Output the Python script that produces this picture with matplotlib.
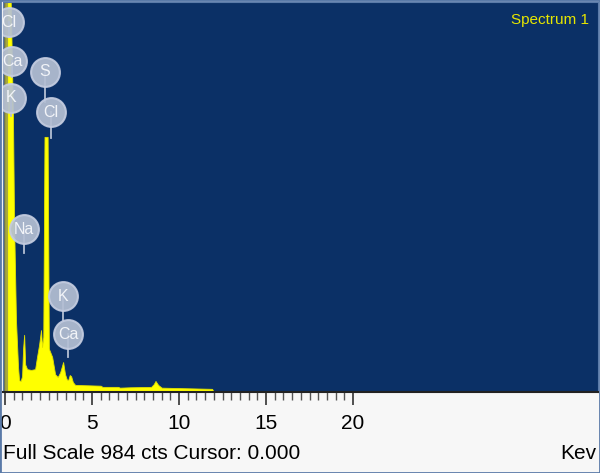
import numpy as np
import matplotlib
matplotlib.use("Agg")
import matplotlib.pyplot as plt
from matplotlib.patches import Rectangle

# spectrum (keV, counts)
energy_kev = [0.00, 0.02, 0.33, 0.46, 0.52, 0.63, 0.75, 0.81, 0.90, 0.98, 1.04, 1.10, 1.16,
              1.27, 1.50, 1.73, 1.84, 1.96, 2.07, 2.13, 2.20, 2.27, 2.45, 2.52, 2.71,
              2.88, 3.03, 3.17, 3.34, 3.45, 3.55, 3.63, 3.72, 3.80, 3.90, 4.03, 5.50,
              5.60, 6.50, 6.60, 7.20, 8.40, 8.55, 8.65, 8.80, 9.00, 11.90, 12.00]
counts = [0, 1000, 990, 690, 436, 183, 63, 30, 28, 40, 110, 145, 70,
          58, 56, 58, 89, 120, 157, 114, 140, 647, 647, 110, 89,
          45, 38, 50, 76, 45, 32, 30, 43, 40, 25, 18, 16,
          13, 13, 11, 12, 13, 20, 28, 18, 11, 8, 0]

full_scale = 984

# peak labels: element, label position (keV, counts), stem end (counts)
labels = ["Cl", "Ca", "K", "S", "Cl", "Na", "K", "Ca"]
label_kev = [0.23, 0.40, 0.34, 2.30, 2.64, 1.09, 3.33, 3.62]
label_cts = [938, 839, 746, 812, 710, 413, 243, 147]
stem_end = [900, 800, 700, 735, 645, 352, 182, 89]

navy = "#0b3066"
yellow = "#ffff00"

fig = plt.figure(figsize=(6, 4.73), dpi=100)
fig.patch.set_facecolor("#f7f7f7")

ax = fig.add_axes([3 / 600, 81 / 473, 595 / 600, 390 / 473])
ax.set_facecolor(navy)
ax.fill_between(energy_kev, counts, 0, color=yellow, linewidth=0.6, edgecolor="#e0e000")
# cursor at 0.000
ax.axvline(0.06, color="#8c8c50", alpha=0.75, lw=3)

ax.set_xlim(-0.115, 34.08)
ax.set_ylim(0, full_scale * 390 / 388)

# label bubbles
for lab, x, y, ye in zip(labels, label_kev, label_cts, stem_end):
    ax.plot([x, x], [y, ye], color="#b4bfd3", lw=1.3, zorder=3)
    ax.scatter([x], [y], s=430, color="#b4bfd3", alpha=0.93, edgecolors="#c4cce0",
               linewidths=1.5, zorder=4)
    ax.text(x, y, lab, color="#f2f4f8", fontsize=11.5, ha="center", va="center",
            family="Liberation Sans", zorder=5)

ax.text(0.985, 0.955, "Spectrum 1", transform=ax.transAxes, color="#e6e600",
        fontsize=11, ha="right", va="center", family="Liberation Sans")

for s in ["top", "right", "left"]:
    ax.spines[s].set_color("#5a7aa8")
ax.spines["bottom"].set_color("#222222")
ax.spines["bottom"].set_linewidth(1.5)

ax.set_xticks([0, 5, 10, 15, 20])
ax.set_xticks(np.arange(0, 20.5, 0.5), minor=True)
ax.set_yticks([])
ax.tick_params(axis="x", which="major", direction="out", length=9, width=1.2,
               color="#333333", pad=7, labelsize=15)
ax.tick_params(axis="x", which="minor", direction="out", length=6, width=1,
               color="#555555")
for t in ax.get_xticklabels():
    t.set_family("Liberation Sans")

fig.text(3 / 600, 1 - 453 / 473, "Full Scale 984 cts Cursor: 0.000", fontsize=15,
         family="Liberation Sans", ha="left", va="center")
fig.text(596 / 600, 1 - 453 / 473, "Kev", fontsize=15, family="Liberation Sans",
         ha="right", va="center")

fig.patches.append(Rectangle((0, 0), 1, 1, transform=fig.transFigure, fill=False,
                             edgecolor="#5a7aa8", lw=2))

fig.savefig("out.png", dpi=100, facecolor=fig.get_facecolor())
